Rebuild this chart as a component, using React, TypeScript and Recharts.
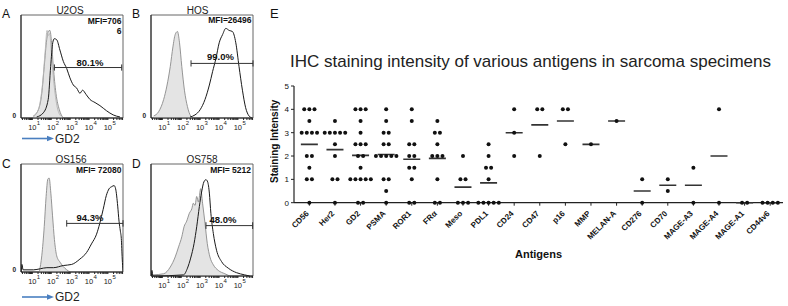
import React from "react";
import {
  Area,
  ComposedChart,
  Label,
  ReferenceArea,
  ReferenceLine,
  Scatter,
  ScatterChart,
  XAxis,
  YAxis,
} from "recharts";

const FONT = "'Liberation Sans', Arial, sans-serif";

// ---- flow histograms: x = log10 fluorescence, y = % of max count ----
const logDomain: [number, number] = [0.4, 5.8];

const u2osIsoLog = [1.05, 1.32, 1.5, 1.63, 1.76, 1.84, 1.93, 2.02, 2.11, 2.25, 2.43, 2.64];
const u2osIsoPct = [2, 8, 24, 50, 76, 84, 85, 73, 50, 24, 8, 0];
const u2osBlankLog = [0.95, 1.2, 1.4, 1.55, 1.68, 1.78, 1.84, 1.92, 2.0, 2.12, 2.3, 2.5];
const u2osBlankPct = [0, 4, 14, 35, 65, 85, 80, 82, 65, 38, 12, 2];
const u2osGd2Log = [1.23, 1.58, 1.84, 1.97, 2.08, 2.16, 2.29, 2.46, 2.64, 2.82, 2.99, 3.17, 3.35, 3.52, 3.66, 3.84, 4.05, 4.32, 4.58, 4.93, 5.28, 5.64];
const u2osGd2Pct = [1, 5, 18, 50, 73, 77, 76, 66, 55, 48, 39, 32, 29, 24, 27, 23, 18, 15, 12, 7, 3, 1];

const hosIsoLog = [0.54, 0.8, 1.07, 1.24, 1.42, 1.56, 1.68, 1.8, 1.91, 2.03, 2.17, 2.33, 2.5, 2.64];
const hosIsoPct = [2, 6, 18, 31, 50, 69, 81, 84, 73, 50, 27, 11, 2, 0];
const hosGd2Log = [2.47, 2.73, 3.0, 3.26, 3.49, 3.66, 3.84, 4.01, 4.19, 4.36, 4.54, 4.71, 4.89, 5.06, 5.24, 5.41, 5.59, 5.76];
const hosGd2Pct = [1, 3, 8, 18, 32, 45, 58, 73, 81, 87, 85, 84, 73, 50, 27, 10, 2, 0];

const os156IsoLog = [1.38, 1.5, 1.63, 1.73, 1.82, 1.89, 1.98, 2.07, 2.17, 2.29, 2.47, 2.64, 2.82, 3.0];
const os156IsoPct = [1, 15, 42, 70, 86, 87, 73, 52, 30, 15, 9, 5, 2, 0];
const os156Gd2Log = [0.42, 0.45, 0.51, 1.07, 1.42, 1.77, 2.12, 2.64, 3.08, 3.52, 3.87, 4.13, 4.4, 4.57, 4.75, 4.92, 5.06, 5.2, 5.33, 5.41, 5.52, 5.59, 5.66, 5.71, 5.76, 5.8];
const os156Gd2Pct = [0, 7, 2, 2, 3, 4, 4, 6, 7, 12, 18, 26, 35, 45, 58, 71, 77, 79, 80, 77, 61, 47, 38, 31, 12, 0];

const os758IsoLog = [0.5, 1.07, 1.42, 1.68, 1.86, 2.03, 2.15, 2.29, 2.43, 2.56, 2.64, 2.73, 2.82, 2.91, 3.03, 3.13, 3.26, 3.38, 3.52, 3.7, 3.96, 4.31, 4.57];
const os758IsoPct = [1, 2, 8, 17, 26, 35, 44, 49, 56, 60, 65, 63, 71, 66, 78, 65, 47, 29, 17, 10, 5, 2, 0];
const os758Gd2Log = [0.42, 0.45, 0.5, 2.12, 2.33, 2.5, 2.68, 2.82, 2.96, 3.08, 3.2, 3.31, 3.4, 3.49, 3.57, 3.7, 3.87, 4.13, 4.49, 4.92, 5.36, 5.62];
const os758Gd2Pct = [0, 5, 0, 1, 7, 16, 29, 44, 62, 75, 84, 86, 84, 74, 56, 38, 23, 13, 7, 3, 1, 0];

// gate: [from, to, level]
const u2osGate = [2.17, 5.73, 49];
const hosGate = [2.52, 5.8, 53];
const os156Gate = [2.82, 5.8, 45];
const os758Gate = [3.31, 5.78, 45];

// ---- IHC scores ----
const antigens = ["CD56", "Her2", "GD2", "PSMA", "ROR1", "FRα", "Meso", "PDL1", "CD24", "CD47", "p16", "MMP", "MELAN-A", "CD276", "CD70", "MAGE-A3", "MAGE-A4", "MAGE-A1", "CD44v6"];
const cd56 = [4, 4, 4, 3.5, 3, 3, 3, 3, 2, 2, 1.5, 1, 1, 0];
const her2 = [3.5, 3, 3, 3, 3, 3, 2.5, 2, 1, 1, 0];
const gd2 = [4, 4, 4, 3.5, 3, 2.5, 2.5, 2.5, 2, 2, 1.5, 1, 1, 1, 1, 1, 0, 0];
const psma = [4, 3.5, 3, 3, 2.5, 2.5, 2, 2, 2, 2, 2, 1, 1, 0.5, 0];
const ror1 = [4, 3.5, 2.5, 2.5, 2, 2, 1.5, 1.5, 1, 0, 0];
const fra = [3.5, 3, 3, 2.5, 2, 2, 2, 1, 0, 0];
const meso = [2, 1, 1, 0, 0, 0];
const pdl1 = [2.5, 2, 1.5, 1.5, 1, 0, 0, 0, 0, 0];
const cd24 = [4, 3, 2];
const cd47 = [4, 4, 2];
const p16 = [4, 4, 2.5];
const mmp = [2.5];
const melanA = [3.5];
const cd276 = [1, 0];
const cd70 = [1, 0.5];
const mageA3 = [1.5, 0];
const mageA4 = [4, 0];
const mageA1 = [0, 0];
const cd44v6 = [0, 0, 0, 0];

const scoreSets = [cd56, her2, gd2, psma, ror1, fra, meso, pdl1, cd24, cd47, p16, mmp, melanA, cd276, cd70, mageA3, mageA4, mageA1, cd44v6];

const toPoints = (xs: number[], ys: number[]) => xs.map((x, i) => ({ x, y: ys[i] }));

const logTicks: number[] = [];
for (let d = 0; d <= 5; d++) {
  for (let k = 1; k <= 9; k++) {
    const v = d + Math.log10(k);
    if (v >= logDomain[0] && v <= logDomain[1]) logTicks.push(v);
  }
}

// spread tied scores side by side, like a column scatter plot
const dotStep = 0.2;
const dots = scoreSets.flatMap((scores, i) => {
  const seen = new Map<number, number>();
  return scores.map((v) => {
    const n = scores.filter((s) => s === v).length;
    const k = seen.get(v) ?? 0;
    seen.set(v, k + 1);
    return { x: i + (k - (n - 1) / 2) * dotStep, y: v };
  });
});
const means = scoreSets.map((scores, i) => ({
  x: i,
  y: scores.reduce((a, b) => a + b, 0) / scores.length,
}));

function DecadeTick(props: any) {
  const { x, y, payload } = props;
  const p = Math.round(payload.value * 1000) / 1000;
  if (!Number.isInteger(p)) return <g />;
  return (
    <g fontFamily={FONT} fill="#222">
      <text x={x} y={y + 10} textAnchor="middle" fontSize={7.5}>10</text>
      <text x={x + 4.5} y={y + 5} fontSize={6}>{p}</text>
    </g>
  );
}

function AntigenTick(props: any) {
  const { x, y, payload } = props;
  const ax = x;
  const ay = y + 6.3;
  return (
    <text
      x={ax}
      y={ay}
      transform={`rotate(-45 ${ax} ${ay})`}
      textAnchor="end"
      fontSize={8}
      fontWeight={700}
      fontFamily={FONT}
      fill="#111"
    >
      {antigens[payload.value]}
    </text>
  );
}

const renderDot = (props: any) => <circle cx={props.cx} cy={props.cy} r={2} fill="#111" />;
const renderMean = (props: any) => (
  <line x1={props.cx - 8.5} x2={props.cx + 8.5} y1={props.cy} y2={props.cy} stroke="#333" strokeWidth={1.6} />
);

const yLabel = (props: any) => {
  const { x, y, height } = props.viewBox;
  const cx = x + 5;
  const cy = y + height / 2 - 3;
  return (
    <text
      x={cx}
      y={cy}
      transform={`rotate(-90 ${cx} ${cy})`}
      textAnchor="middle"
      dominantBaseline="central"
      fontSize={10}
      fontWeight={700}
      fontFamily={FONT}
      fill="#111"
    >
      Staining Intensity
    </text>
  );
};

type HistProps = {
  left: number;
  top: number;
  height: number;
  plotTop: number;
  plotBottom: number;
  iso: { x: number; y: number }[];
  stained: { x: number; y: number }[];
  blank?: { x: number; y: number }[];
  gate: number[];
  showZero: boolean;
};

function HistPanel({ left, top, height, plotTop, plotBottom, iso, stained, blank, gate, showZero }: HistProps) {
  const [from, to, level] = gate;
  return (
    <div style={{ position: "absolute", left, top }}>
      <ComposedChart width={130} height={height} margin={{ top: plotTop, right: 7, bottom: 0, left: 0 }}>
        <XAxis
          type="number"
          dataKey="x"
          domain={logDomain}
          ticks={logTicks}
          interval={0}
          allowDataOverflow
          tick={<DecadeTick />}
          tickSize={2}
          tickMargin={0}
          height={height - plotBottom}
          axisLine={{ stroke: "#222" }}
          tickLine={{ stroke: "#222" }}
        />
        <YAxis
          type="number"
          dataKey="y"
          domain={[0, 100]}
          ticks={showZero ? [0] : []}
          width={21}
          tickSize={2}
          tickMargin={3}
          axisLine={{ stroke: "#222" }}
          tickLine={false}
          tick={{ fontSize: 6.5, fontWeight: 700, fill: "#222", fontFamily: FONT, dy: -2.5 }}
        />
        <ReferenceArea x1={logDomain[0]} x2={logDomain[1]} y1={0} y2={100} fill="none" stroke="#555" strokeWidth={0.9} />
        <Area data={iso} dataKey="y" type="monotone" fill="#e4e4e4" fillOpacity={1} stroke="#8a8a8a" strokeWidth={0.9} isAnimationActive={false} />
        {blank && (
          <Area data={blank} dataKey="y" type="monotone" fill="none" stroke="#b5b5b5" strokeWidth={0.9} isAnimationActive={false} />
        )}
        <Area data={stained} dataKey="y" type="monotone" fill="none" stroke="#1a1a1a" strokeWidth={1} isAnimationActive={false} />
        <ReferenceLine segment={[{ x: from, y: level }, { x: to, y: level }]} stroke="#333" strokeWidth={1} />
        <ReferenceLine segment={[{ x: from, y: level - 3 }, { x: from, y: level + 3 }]} stroke="#333" strokeWidth={1} />
        <ReferenceLine segment={[{ x: to, y: level - 3 }, { x: to, y: level + 3 }]} stroke="#333" strokeWidth={1} />
      </ComposedChart>
    </div>
  );
}

function Gd2Arrow({ y }: { y: number }) {
  return (
    <g>
      <line x1={22} y1={y} x2={49} y2={y} stroke="#4a7fc0" strokeWidth={1.6} />
      <polygon points={`54,${y} 47,${y - 2.8} 47,${y + 2.8}`} fill="#4a7fc0" />
      <text x={55} y={y + 4.3} fontSize={12} fill="#222">GD2</text>
    </g>
  );
}

export default function App() {
  return (
    <div style={{ position: "relative", width: 788, height: 306, background: "#fff", overflow: "hidden", fontFamily: FONT }}>
      <style>{"body{margin:0}"}</style>

      <HistPanel left={0} top={0} height={150} plotTop={15} plotBottom={118}
        iso={toPoints(u2osIsoLog, u2osIsoPct)} blank={toPoints(u2osBlankLog, u2osBlankPct)}
        stained={toPoints(u2osGd2Log, u2osGd2Pct)} gate={u2osGate} showZero />
      <HistPanel left={130} top={0} height={150} plotTop={15} plotBottom={118}
        iso={toPoints(hosIsoLog, hosIsoPct)} stained={toPoints(hosGd2Log, hosGd2Pct)} gate={hosGate} showZero />
      <HistPanel left={0} top={150} height={156} plotTop={14} plotBottom={122}
        iso={toPoints(os156IsoLog, os156IsoPct)} stained={toPoints(os156Gd2Log, os156Gd2Pct)} gate={os156Gate} showZero />
      <HistPanel left={130} top={150} height={156} plotTop={14} plotBottom={126}
        iso={toPoints(os758IsoLog, os758IsoPct)} stained={toPoints(os758Gd2Log, os758Gd2Pct)} gate={os758Gate} showZero={false} />

      <div style={{ position: "absolute", left: 270, top: 0 }}>
        <ScatterChart width={518} height={306} margin={{ top: 86, right: 5, bottom: 0, left: 0 }}>
          <XAxis
            type="number"
            dataKey="x"
            domain={[-0.6, 18.5]}
            ticks={antigens.map((_, i) => i)}
            interval={0}
            allowDataOverflow
            tick={<AntigenTick />}
            tickSize={3}
            height={103.3}
            axisLine={{ stroke: "#222", strokeWidth: 1.2 }}
            tickLine={{ stroke: "#222" }}
          >
            <Label value="Antigens" position="insideBottom" offset={48} style={{ fontSize: 11, fontWeight: 700, fill: "#111", fontFamily: FONT }} />
          </XAxis>
          <YAxis
            type="number"
            dataKey="y"
            domain={[0, 5]}
            ticks={[0, 1, 2, 3, 4, 5]}
            width={24}
            tickSize={3}
            axisLine={{ stroke: "#222", strokeWidth: 1.2 }}
            tickLine={{ stroke: "#222" }}
            tick={{ fontSize: 8, fill: "#111", fontFamily: FONT }}
          >
            <Label content={yLabel} />
          </YAxis>
          <Scatter data={means} shape={renderMean} isAnimationActive={false} />
          <Scatter data={dots} shape={renderDot} isAnimationActive={false} />
        </ScatterChart>
      </div>

      <svg width={788} height={306} style={{ position: "absolute", left: 0, top: 0, pointerEvents: "none" }} fontFamily={FONT}>
        <g fontSize={12} fill="#111">
          <text x={2} y={17.5}>A</text>
          <text x={132} y={17.5}>B</text>
          <text x={2} y={167.5}>C</text>
          <text x={132} y={167.5}>D</text>
          <text x={270} y={18} fontSize={13}>E</text>
        </g>
        <g fontSize={10} fill="#222" textAnchor="middle">
          <text x={70} y={13.5}>U2OS</text>
          <text x={197.5} y={13.5}>HOS</text>
          <text x={71} y={162.5}>OS156</text>
          <text x={202} y={162.5}>OS758</text>
        </g>
        <g fontSize={8.5} fontWeight={700} fill="#111" textAnchor="end">
          <text x={121.5} y={24}>MFI=706</text>
          <text x={121.5} y={33.5}>6</text>
          <text x={251.5} y={23}>MFI=26496</text>
          <text x={121.5} y={173}>MFI= 72080</text>
          <text x={251} y={173}>MFI= 5212</text>
        </g>
        <g fontSize={9.5} fontWeight={700} fill="#111" textAnchor="middle">
          <text x={90} y={66}>80.1%</text>
          <text x={220.5} y={60}>99.0%</text>
          <text x={90} y={221}>94.3%</text>
          <text x={223} y={223}>48.0%</text>
        </g>
        <Gd2Arrow y={138.5} />
        <Gd2Arrow y={297} />
        <text x={530.5} y={66.5} fontSize={17} fill="#222" textAnchor="middle">
          IHC staining intensity of various antigens in sarcoma specimens
        </text>
      </svg>
    </div>
  );
}
